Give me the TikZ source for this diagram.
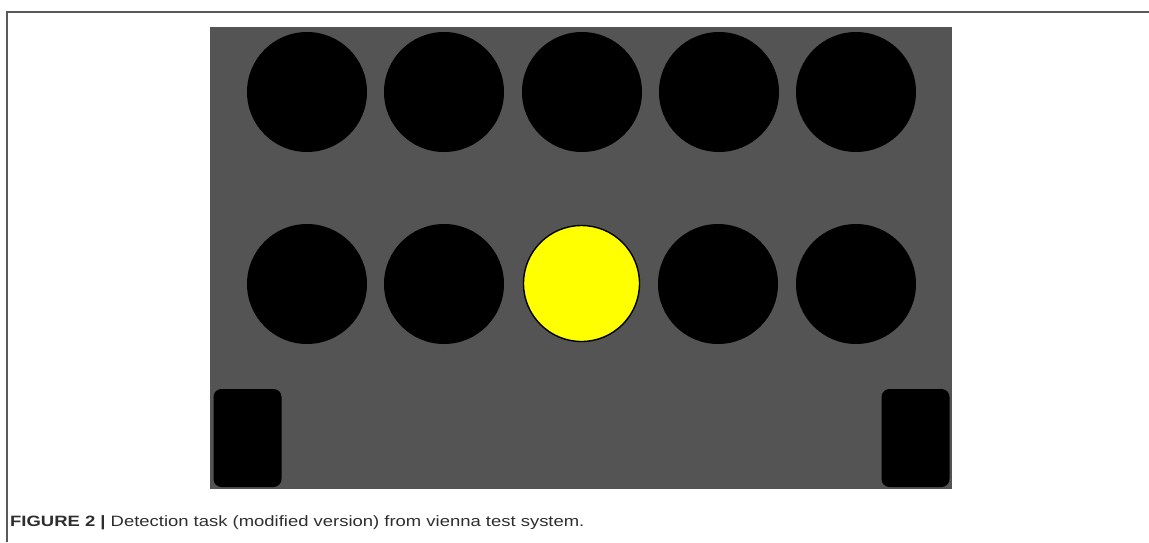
\documentclass[tikz,border=0pt]{standalone}
\usepackage{fontspec}
\setmainfont{Liberation Sans}
\usepackage{tikz}
\usetikzlibrary{positioning}
\definecolor{panel}{HTML}{545454}
\definecolor{capt}{HTML}{2E2E2E}
\definecolor{lamp}{HTML}{FFFF00}
\begin{document}
\begin{tikzpicture}[x=1pt,y=-1pt]
\tikzstyle{dot}=[circle,fill=black,inner sep=0pt,minimum size=120pt]
\tikzstyle{lit}=[circle,fill=lamp,draw=black,line width=1.4pt,inner sep=0pt,minimum size=116pt]
\tikzstyle{key}=[rectangle,fill=black,rounded corners=8pt,inner sep=0pt,minimum width=68pt,minimum height=98pt]
\useasboundingbox (0,0) rectangle (1149,542);
\draw[gray!70!black,line width=1.2pt] (1149,12) -- (7,12) -- (7,542);
\fill[panel] (210,27) rectangle (952,489);
\node[dot] (t1) at (307,92) {}; \node[dot] (t2) at (444,92) {}; \node[dot] (t3) at (582,92) {}; \node[dot] (t4) at (719,92) {}; \node[dot] (t5) at (856,92) {};
\node[dot] (b1) at (307,284) {}; \node[dot] (b2) at (444,284) {}; \node[lit] (b3) at (581.5,283.5) {}; \node[dot] (b4) at (718,284) {}; \node[dot] (b5) at (856,284) {};
\node[key] (kl) at (247.5,438) {}; \node[key] (kr) at (915.5,438) {};
\node[anchor=base west,inner sep=0pt,font=\fontsize{15}{17}\selectfont,text=capt] (cap) at (10,526) {\scalebox{1.23}[1]{\textbf{FIGURE 2 |} Detection task (modified version) from vienna test system.}};
\end{tikzpicture}
\end{document}
